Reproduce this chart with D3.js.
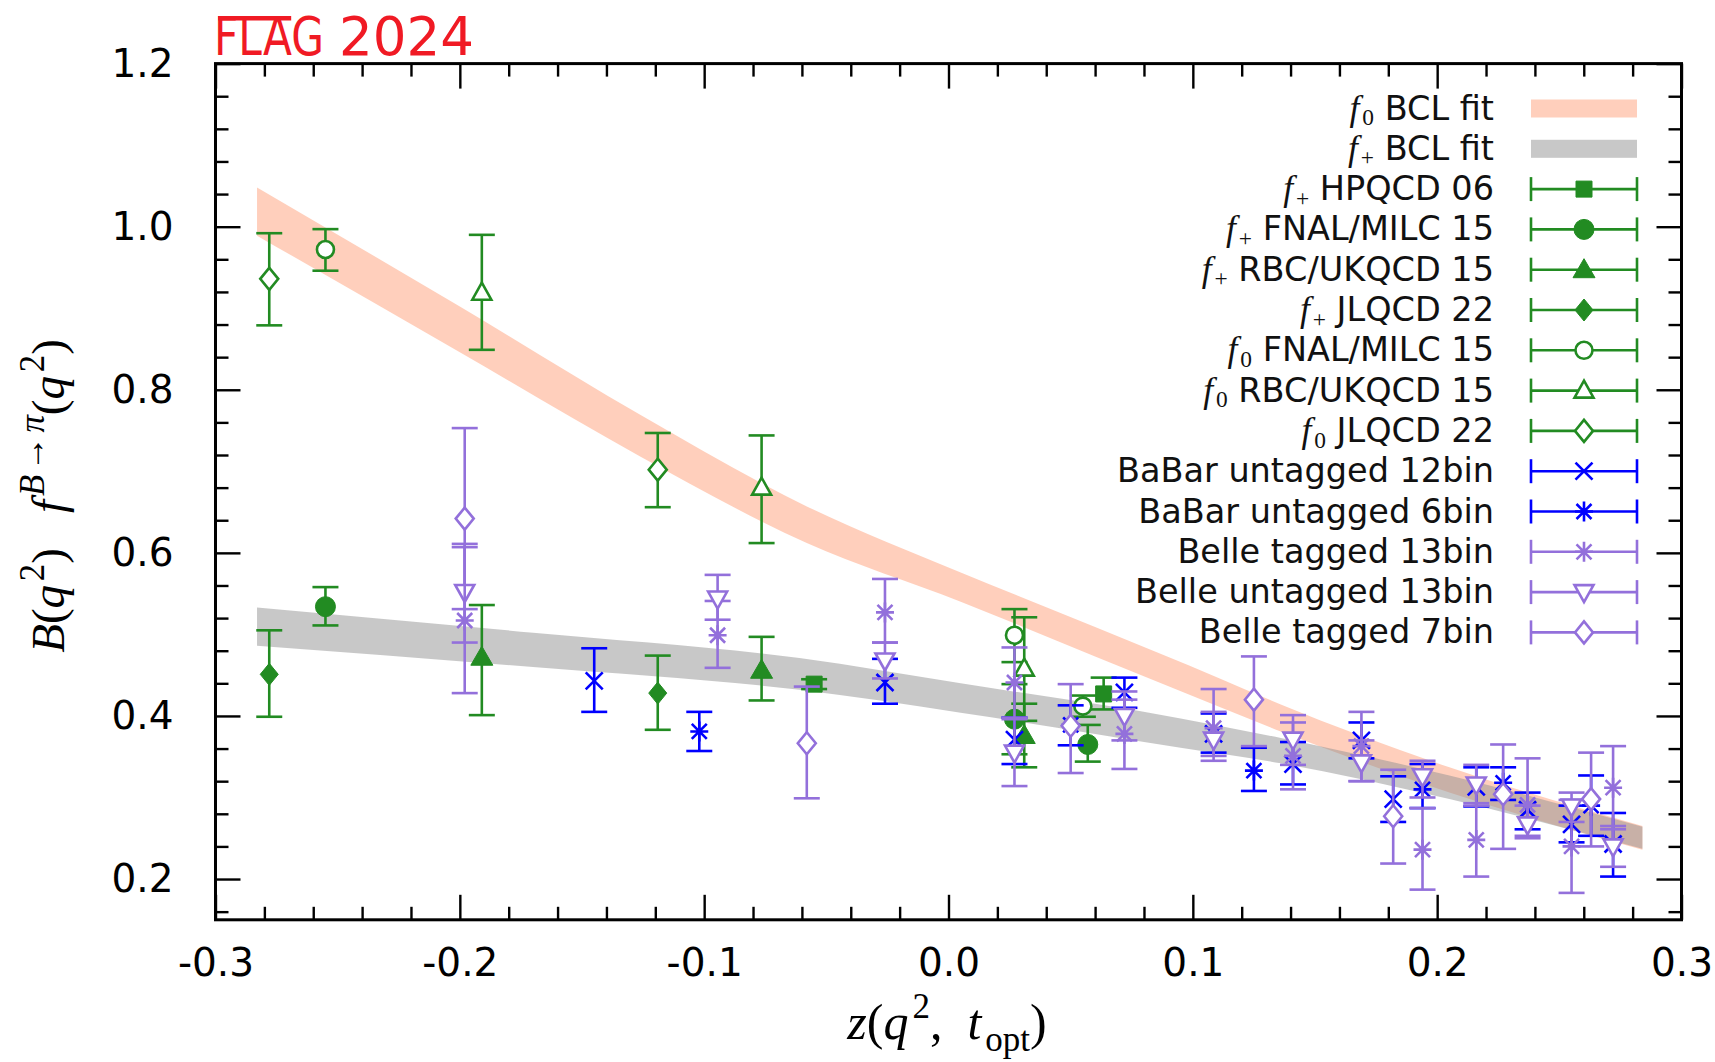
<!DOCTYPE html>
<html>
<head>
<meta charset="utf-8">
<script src="https://cdn.jsdelivr.net/npm/d3@7"></script>
<style>
  body { margin: 0; background: white; }
  text { white-space: pre; }
</style>
</head>
<body>
<svg id="chart" width="1715" height="1062"></svg>
<script>
// ---- data ----
// BCL fit bands: [z, lower, upper]
const f0Band = [
  [-0.283, 0.989, 1.048], [-0.20, 0.846, 0.902], [-0.126, 0.718, 0.769],
  [-0.058, 0.612, 0.657], [0.005, 0.540, 0.576], [0.06, 0.473, 0.509],
  [0.111, 0.411, 0.446], [0.136, 0.381, 0.414], [0.205, 0.306, 0.337],
  [0.284, 0.236, 0.265]
];
const fplusBand = [
  [-0.283, 0.486, 0.533], [-0.17, 0.460, 0.502], [-0.061, 0.432, 0.471],
  [0.005, 0.404, 0.440], [0.095, 0.361, 0.397], [0.136, 0.342, 0.373],
  [0.205, 0.298, 0.327], [0.284, 0.237, 0.264]
];

// points: [z, value, upper, lower]
const hpqcd06 = [[-0.055, 0.439, 0.445, 0.433], [0.0635, 0.427, 0.447, 0.408]];
const fnalMilcFplus = [[-0.255, 0.534, 0.558, 0.511], [0.027, 0.396, 0.439, 0.353], [0.057, 0.365, 0.389, 0.344]];
const rbcUkqcdFplus = [[-0.191, 0.472, 0.536, 0.401], [-0.0765, 0.456, 0.497, 0.419], [0.031, 0.376, 0.415, 0.337]];
const jlqcdFplus = [[-0.278, 0.451, 0.505, 0.399], [-0.119, 0.428, 0.474, 0.383]];
const fnalMilcF0 = [[-0.255, 0.972, 0.997, 0.946], [0.027, 0.499, 0.531, 0.466], [0.055, 0.412, 0.425, 0.399]];
const rbcUkqcdF0 = [[-0.191, 0.919, 0.990, 0.849], [-0.0765, 0.680, 0.744, 0.612], [0.031, 0.458, 0.521, 0.394]];
const jlqcdF0 = [[-0.278, 0.936, 0.992, 0.879], [-0.119, 0.702, 0.747, 0.656]];
const babar12 = [
  [-0.145, 0.443, 0.483, 0.405], [-0.026, 0.441, 0.470, 0.415], [0.027, 0.371, 0.398, 0.341],
  [0.072, 0.429, 0.447, 0.410], [0.1085, 0.378, 0.403, 0.355], [0.141, 0.341, 0.368, 0.316],
  [0.169, 0.370, 0.392, 0.348], [0.182, 0.298, 0.326, 0.270], [0.216, 0.313, 0.337, 0.289],
  [0.237, 0.285, 0.306, 0.261], [0.255, 0.267, 0.290, 0.245], [0.272, 0.243, 0.281, 0.203]
];
const babar6 = [
  [-0.102, 0.381, 0.405, 0.357], [0.050, 0.389, 0.413, 0.364], [0.125, 0.333, 0.361, 0.308],
  [0.194, 0.310, 0.341, 0.287], [0.227, 0.318, 0.337, 0.297], [0.263, 0.290, 0.327, 0.253]
];
const belleTagged13 = [
  [-0.198, 0.517, 0.607, 0.428], [-0.0945, 0.499, 0.541, 0.459], [-0.026, 0.527, 0.568, 0.490],
  [0.027, 0.441, 0.484, 0.398], [0.072, 0.378, 0.420, 0.335], [0.1085, 0.385, 0.433, 0.351],
  [0.141, 0.351, 0.392, 0.310], [0.169, 0.363, 0.405, 0.320], [0.194, 0.236, 0.287, 0.187],
  [0.216, 0.248, 0.293, 0.203], [0.237, 0.291, 0.348, 0.253], [0.255, 0.240, 0.297, 0.183],
  [0.272, 0.312, 0.363, 0.261]
];
const belleUntagged13 = [
  [-0.198, 0.552, 0.611, 0.490], [-0.0945, 0.544, 0.573, 0.518], [-0.026, 0.468, 0.490, 0.446],
  [0.027, 0.355, 0.396, 0.314], [0.072, 0.400, 0.430, 0.370], [0.1085, 0.371, 0.405, 0.345],
  [0.141, 0.371, 0.401, 0.340], [0.169, 0.343, 0.370, 0.320], [0.194, 0.326, 0.345, 0.300],
  [0.216, 0.316, 0.340, 0.290], [0.237, 0.267, 0.290, 0.250], [0.255, 0.289, 0.306, 0.270],
  [0.272, 0.240, 0.265, 0.215]
];
const belleTagged7 = [
  [-0.198, 0.642, 0.753, 0.531], [-0.058, 0.3665, 0.436, 0.299], [0.050, 0.388, 0.439, 0.330],
  [0.125, 0.420, 0.473, 0.363], [0.182, 0.277, 0.334, 0.219], [0.227, 0.304, 0.365, 0.237],
  [0.263, 0.298, 0.355, 0.240]
];

const xTicks = [-0.3, -0.2, -0.1, 0.0, 0.1, 0.2, 0.3];
const yTicks = [0.2, 0.4, 0.6, 0.8, 1.0, 1.2];

// ---- styles ----
const sans = "'DejaVu Sans', sans-serif";
const serif = "'Liberation Serif', 'DejaVu Serif', serif";
const green = "#228b22", blue = "#0000ff", purple = "#9370db";

const markerPaths = {
  square: "M-8,-8H8V8H-8Z",
  circle: "M-10,0A10,10 0 1,0 10,0A10,10 0 1,0 -10,0Z",
  circleOpen: "M-8.5,0A8.5,8.5 0 1,0 8.5,0A8.5,8.5 0 1,0 -8.5,0Z",
  triUp: "M0,-11L11,8L-11,8Z",
  triUpOpen: "M0,-10L9.5,7L-9.5,7Z",
  triDown: "M0,10L9.5,-7L-9.5,-7Z",
  diamond: "M0,-11L9,0L0,11L-9,0Z",
  cross: "M-8.5,-8.5L8.5,8.5M-8.5,8.5L8.5,-8.5",
  star: "M-9,0H9M0,-10V10M-7.5,-7.5L7.5,7.5M-7.5,7.5L7.5,-7.5"
};

// label parts: it = italic math, sub/up = subscript/superscript, tx = plain sans text
const series = [
  {data: hpqcd06, color: green, shape: "square", mode: "fill", label: [{t: "f", it: 1}, {t: "+", sub: 1}, {t: " HPQCD 06", tx: 1}]},
  {data: fnalMilcFplus, color: green, shape: "circle", mode: "fill", label: [{t: "f", it: 1}, {t: "+", sub: 1}, {t: " FNAL/MILC 15", tx: 1}]},
  {data: rbcUkqcdFplus, color: green, shape: "triUp", mode: "fill", label: [{t: "f", it: 1}, {t: "+", sub: 1}, {t: " RBC/UKQCD 15", tx: 1}]},
  {data: jlqcdFplus, color: green, shape: "diamond", mode: "fill", label: [{t: "f", it: 1}, {t: "+", sub: 1}, {t: " JLQCD 22", tx: 1}]},
  {data: fnalMilcF0, color: green, shape: "circleOpen", mode: "open", label: [{t: "f", it: 1}, {t: "0", sub: 1}, {t: " FNAL/MILC 15", tx: 1}]},
  {data: rbcUkqcdF0, color: green, shape: "triUpOpen", mode: "open", label: [{t: "f", it: 1}, {t: "0", sub: 1}, {t: " RBC/UKQCD 15", tx: 1}]},
  {data: jlqcdF0, color: green, shape: "diamond", mode: "open", label: [{t: "f", it: 1}, {t: "0", sub: 1}, {t: " JLQCD 22", tx: 1}]},
  {data: babar12, color: blue, shape: "cross", mode: "line", label: [{t: "BaBar untagged 12bin", tx: 1}]},
  {data: babar6, color: blue, shape: "star", mode: "line", label: [{t: "BaBar untagged 6bin", tx: 1}]},
  {data: belleTagged13, color: purple, shape: "star", mode: "line", label: [{t: "Belle tagged 13bin", tx: 1}]},
  {data: belleUntagged13, color: purple, shape: "triDown", mode: "open", label: [{t: "Belle untagged 13bin", tx: 1}]},
  {data: belleTagged7, color: purple, shape: "diamond", mode: "open", label: [{t: "Belle tagged 7bin", tx: 1}]}
];

const bands = [
  {data: f0Band, fill: "#ffa07a", label: [{t: "f", it: 1}, {t: "0", sub: 1}, {t: " BCL fit", tx: 1}]},
  {data: fplusBand, fill: "#919191", label: [{t: "f", it: 1}, {t: "+", sub: 1}, {t: " BCL fit", tx: 1}]}
];

// ---- layout ----
const svg = d3.select("#chart");
const plot = {left: 215.5, right: 1681.5, top: 63.6, bottom: 919.8};

const x = d3.scaleLinear().domain([-0.3, 0.3]).range([plot.left, plot.right]);
const y = d3.scaleLinear().domain([0.15, 1.2]).range([plot.bottom, plot.top]);

// rich text helper (math italics, sub/superscripts)
function addRich(textSel, parts, base, textSize, smallRatio, subDrop) {
  let shift = 0;
  parts.forEach(p => {
    const small = p.sub || p.up;
    const target = p.up ? -base * 0.42 : p.sub ? base * subDrop : 0;
    textSel.append("tspan")
      .text(p.t)
      .attr("font-family", p.tx ? sans : serif)
      .attr("font-style", p.it ? "italic" : "normal")
      .attr("font-size", small ? base * smallRatio : (p.tx ? textSize : base))
      .attr("dx", small ? base * 0.08 : 0)
      .attr("dy", target - shift);
    shift = target;
  });
}

// bands
const area = d3.area()
  .x(d => x(d[0]))
  .y0(d => y(d[1]))
  .y1(d => y(d[2]))
  .curve(d3.curveMonotoneX);

svg.append("g").selectAll("path")
  .data(bands)
  .join("path")
  .attr("d", d => area(d.data))
  .attr("fill", d => d.fill)
  .attr("fill-opacity", 0.5);

// error bars + markers
function drawMarker(g, s) {
  g.append("path")
    .attr("d", markerPaths[s.shape])
    .attr("fill", s.mode === "fill" ? s.color : (s.mode === "open" ? "white" : "none"))
    .attr("stroke", s.color)
    .attr("stroke-width", s.mode === "fill" ? 1 : 2.6);
}

const capW = 13;
series.forEach(s => {
  const g = svg.append("g")
    .attr("stroke", s.color)
    .attr("stroke-width", 2.6);
  s.data.forEach(d => {
    const px = x(d[0]);
    g.append("line").attr("x1", px).attr("x2", px).attr("y1", y(d[2])).attr("y2", y(d[3]));
    g.append("line").attr("x1", px - capW).attr("x2", px + capW).attr("y1", y(d[2])).attr("y2", y(d[2]));
    g.append("line").attr("x1", px - capW).attr("x2", px + capW).attr("y1", y(d[3])).attr("y2", y(d[3]));
    drawMarker(g.append("g").attr("transform", `translate(${px},${y(d[1])})`), s);
  });
});

// ---- axes ----
const minorX = d3.range(-0.28, 0.3, 0.02).filter(v => Math.abs(v * 10 - Math.round(v * 10)) > 1e-6);
const minorY = d3.range(0.16, 1.2, 0.04).filter(v => Math.abs(v * 5 - Math.round(v * 5)) > 1e-6);

function axis(gen, pos, values, size, labels) {
  const g = svg.append("g")
    .attr("transform", pos)
    .call(gen.tickValues(values).tickSize(-size).tickPadding(labels ? labels : 0)
      .tickFormat(labels ? (d => d.toFixed(1)) : ""));
  g.select(".domain").remove();
  g.selectAll(".tick line").attr("stroke", "#000").attr("stroke-width", 2.4);
  g.selectAll("text").attr("font-family", sans).attr("font-size", 39).attr("fill", "#000");
  return g;
}

axis(d3.axisBottom(x), `translate(0,${plot.bottom})`, xTicks, 25, 29);
axis(d3.axisBottom(x), `translate(0,${plot.bottom})`, minorX, 13);
axis(d3.axisTop(x), `translate(0,${plot.top})`, xTicks, 25);
axis(d3.axisTop(x), `translate(0,${plot.top})`, minorX, 13);
axis(d3.axisLeft(y), `translate(${plot.left},0)`, yTicks, 25, 42);
axis(d3.axisLeft(y), `translate(${plot.left},0)`, minorY, 13);
axis(d3.axisRight(y), `translate(${plot.right},0)`, yTicks, 25);
axis(d3.axisRight(y), `translate(${plot.right},0)`, minorY, 13);

svg.append("rect")
  .attr("x", plot.left).attr("y", plot.top)
  .attr("width", plot.right - plot.left).attr("height", plot.bottom - plot.top)
  .attr("fill", "none").attr("stroke", "#000").attr("stroke-width", 3);

// ---- legend ----
const legend = {textX: 1494, x0: 1531, x1: 1637, y0: 108.5, dy: 40.3};
const legendItems = bands.map(b => ({band: b, label: b.label}))
  .concat(series.map(s => ({s: s, label: s.label})));

legendItems.forEach((item, i) => {
  const ly = legend.y0 + i * legend.dy;
  const t = svg.append("text")
    .attr("x", legend.textX).attr("y", ly + 11)
    .attr("text-anchor", "end").attr("fill", "#111");
  addRich(t, item.label, 35.5, 33.5, 0.66, 0.16);
  if (item.band) {
    svg.append("rect")
      .attr("x", legend.x0).attr("y", ly - 9)
      .attr("width", legend.x1 - legend.x0).attr("height", 18)
      .attr("fill", item.band.fill).attr("fill-opacity", 0.5);
  } else {
    const s = item.s;
    const g = svg.append("g").attr("stroke", s.color).attr("stroke-width", 2.6);
    g.append("line").attr("x1", legend.x0).attr("x2", legend.x1).attr("y1", ly).attr("y2", ly);
    g.append("line").attr("x1", legend.x0).attr("x2", legend.x0).attr("y1", ly - 12).attr("y2", ly + 12);
    g.append("line").attr("x1", legend.x1).attr("x2", legend.x1).attr("y1", ly - 12).attr("y2", ly + 12);
    drawMarker(g.append("g").attr("transform", `translate(${(legend.x0 + legend.x1) / 2},${ly})`), s);
  }
});

// ---- axis titles ----
const yLabel = svg.append("text")
  .attr("transform", "translate(64,496) rotate(-90)")
  .attr("text-anchor", "middle").attr("fill", "#000");
addRich(yLabel, [
  {t: "B", it: 1}, {t: "("}, {t: "q", it: 1}, {t: "2", up: 1}, {t: ")   "},
  {t: "f", it: 1}, {t: "B", it: 1, up: 1}, {t: "→", up: 1}, {t: "π", it: 1, up: 1},
  {t: "("}, {t: "q", it: 1}, {t: "2", up: 1}, {t: ")"}
], 47, 47, 0.74, 0.24);

const xLabel = svg.append("text")
  .attr("x", 947).attr("y", 1039)
  .attr("text-anchor", "middle").attr("fill", "#000");
addRich(xLabel, [
  {t: "z", it: 1}, {t: "("}, {t: "q", it: 1}, {t: "2", up: 1}, {t: ",  "},
  {t: "t", it: 1}, {t: "opt", sub: 1}, {t: ")"}
], 50, 50, 0.7, 0.24);

// ---- FLAG logo ----
const red = "#f01a24";
const flag = svg.append("text")
  .attr("x", 214).attr("y", 55)
  .attr("font-family", sans).attr("font-size", 53).attr("fill", red)
  .attr("textLength", 110).attr("lengthAdjust", "spacingAndGlyphs")
  .text("FLAG");
svg.append("text")
  .attr("x", 339).attr("y", 55)
  .attr("font-family", sans).attr("font-size", 53).attr("fill", red)
  .text("2024");
const aBox = flag.node().getExtentOfChar(2);
const fBox = flag.node().getExtentOfChar(0);
svg.append("rect")
  .attr("x", fBox.x + 4).attr("y", 16)
  .attr("width", aBox.x + aBox.width - fBox.x - 4).attr("height", 4.5)
  .attr("fill", red);
</script>
</body>
</html>
